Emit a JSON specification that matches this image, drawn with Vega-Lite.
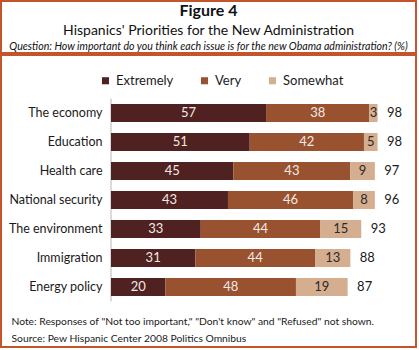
{
  "$schema": "https://vega.github.io/schema/vega-lite/v6.json",
  "padding": 0,
  "background": "white",
  "spacing": 0,
  "config": {
    "view": {"stroke": "#c4552b", "strokeWidth": 2},
    "font": "Lato",
    "concat": {"spacing": 0}
  },
  "datasets": {
    "header": [
      {"row": 1, "line": "Figure 4"},
      {"row": 2, "line": "Hispanics' Priorities for the New Administration"},
      {"row": 3, "line": "Question: How important do you think each issue is for the new Obama administration? (%)"}
    ],
    "issues": [
      {"issue": "The economy", "level": "Extremely", "k": 1, "value": 57, "total": 98},
      {"issue": "The economy", "level": "Very", "k": 2, "value": 38, "total": 98},
      {"issue": "The economy", "level": "Somewhat", "k": 3, "value": 3, "total": 98},
      {"issue": "Education", "level": "Extremely", "k": 1, "value": 51, "total": 98},
      {"issue": "Education", "level": "Very", "k": 2, "value": 42, "total": 98},
      {"issue": "Education", "level": "Somewhat", "k": 3, "value": 5, "total": 98},
      {"issue": "Health care", "level": "Extremely", "k": 1, "value": 45, "total": 97},
      {"issue": "Health care", "level": "Very", "k": 2, "value": 43, "total": 97},
      {"issue": "Health care", "level": "Somewhat", "k": 3, "value": 9, "total": 97},
      {"issue": "National security", "level": "Extremely", "k": 1, "value": 43, "total": 96},
      {"issue": "National security", "level": "Very", "k": 2, "value": 46, "total": 96},
      {"issue": "National security", "level": "Somewhat", "k": 3, "value": 8, "total": 96},
      {"issue": "The environment", "level": "Extremely", "k": 1, "value": 33, "total": 93},
      {"issue": "The environment", "level": "Very", "k": 2, "value": 44, "total": 93},
      {"issue": "The environment", "level": "Somewhat", "k": 3, "value": 15, "total": 93},
      {"issue": "Immigration", "level": "Extremely", "k": 1, "value": 31, "total": 88},
      {"issue": "Immigration", "level": "Very", "k": 2, "value": 44, "total": 88},
      {"issue": "Immigration", "level": "Somewhat", "k": 3, "value": 13, "total": 88},
      {"issue": "Energy policy", "level": "Extremely", "k": 1, "value": 20, "total": 87},
      {"issue": "Energy policy", "level": "Very", "k": 2, "value": 48, "total": 87},
      {"issue": "Energy policy", "level": "Somewhat", "k": 3, "value": 19, "total": 87}
    ]
  },
  "vconcat": [
    {
      "width": 415,
      "height": 52,
      "data": {"name": "header"},
      "encoding": {
        "y": {"field": "row", "type": "ordinal", "scale": {"type": "point", "domain": [1, 2, 3], "padding": 0.444, "align": 0.647}, "axis": null},
        "text": {"field": "line"}
      },
      "layer": [
        {"transform": [{"filter": "datum.row === 1"}], "mark": {"type": "text", "fontSize": 16, "fontWeight": "bold", "baseline": "middle", "color": "#111"}},
        {"transform": [{"filter": "datum.row === 2"}], "mark": {"type": "text", "fontSize": 14, "baseline": "middle", "dy": 2, "color": "#111"}},
        {"transform": [{"filter": "datum.row === 3"}], "mark": {"type": "text", "fontSize": 10.6, "fontStyle": "italic", "baseline": "middle", "color": "#111"}}
      ]
    },
    {
      "width": 415,
      "height": 292,
      "data": {"name": "issues"},
      "encoding": {
        "y": {
          "field": "issue", "type": "nominal",
          "sort": ["The economy", "Education", "Health care", "National security", "The environment", "Immigration", "Energy policy"],
          "scale": {"type": "band", "range": [43.5, 246.5], "paddingInner": 0.38, "paddingOuter": 0.19},
          "axis": {"title": null, "offset": -110, "domain": false, "ticks": false, "labelPadding": 9, "labelFontSize": 12.5, "labelColor": "#1a1a1a", "labelFont": "Lato"}
        }
      },
      "layer": [
        {
          "transform": [{"filter": "datum.k === 1"}],
          "mark": {"type": "tick", "orient": "vertical", "size": 29, "thickness": 1, "color": "#999999"},
          "encoding": {"x": {"datum": 0, "type": "quantitative"}}
        },
        {
          "mark": {"type": "bar"},
          "encoding": {
            "x": {
              "field": "value", "type": "quantitative", "stack": "zero",
              "scale": {"domain": [-40.44, 112.13], "nice": false, "zero": false},
              "axis": {
                "orient": "bottom", "offset": -50, "labels": false, "ticks": false, "domain": false, "grid": false,
                "title": ["Note: Responses of \"Not too important,\" \"Don't know\" and \"Refused\" not shown.", "Source: Pew Hispanic Center 2008 Politics Omnibus"],
                "titleX": 10, "titleY": 19, "titleAlign": "left", "titleAnchor": "start", "titleBaseline": "top",
                "titleFontSize": 10.3, "titleFontWeight": "normal", "titleLineHeight": 17, "titleColor": "#1a1a1a", "titleFont": "Lato"
              }
            },
            "color": {
              "field": "level", "type": "nominal",
              "scale": {"domain": ["Extremely", "Very", "Somewhat"], "range": ["#4f2120", "#99522f", "#d5ae8f"]},
              "legend": {"orient": "none", "legendX": 98, "legendY": 73, "direction": "horizontal", "title": null, "symbolType": "square", "symbolSize": 50, "labelFontSize": 13, "labelColor": "#1a1a1a", "columnPadding": 24, "labelOffset": 4, "symbolStrokeWidth": 0, "labelFont": "Lato"}
            },
            "order": {"field": "k"}
          }
        },
        {
          "mark": {"type": "text", "fontSize": 13, "baseline": "middle"},
          "encoding": {
            "x": {"field": "value", "type": "quantitative", "stack": "zero", "bandPosition": 0.5},
            "detail": {"field": "level"},
            "order": {"field": "k"},
            "text": {"field": "value"},
            "color": {"condition": {"test": "datum.k === 3", "value": "#2a2a2a"}, "value": "#f3e9e4"}
          }
        },
        {
          "mark": {"type": "text", "fontSize": 13, "dx": 17, "baseline": "middle", "color": "#1a1a1a"},
          "encoding": {
            "x": {"field": "value", "type": "quantitative", "stack": "zero"},
            "detail": {"field": "level"},
            "order": {"field": "k"},
            "text": {"condition": {"test": "datum.k === 3", "field": "total"}, "value": ""}
          }
        }
      ]
    }
  ]
}
